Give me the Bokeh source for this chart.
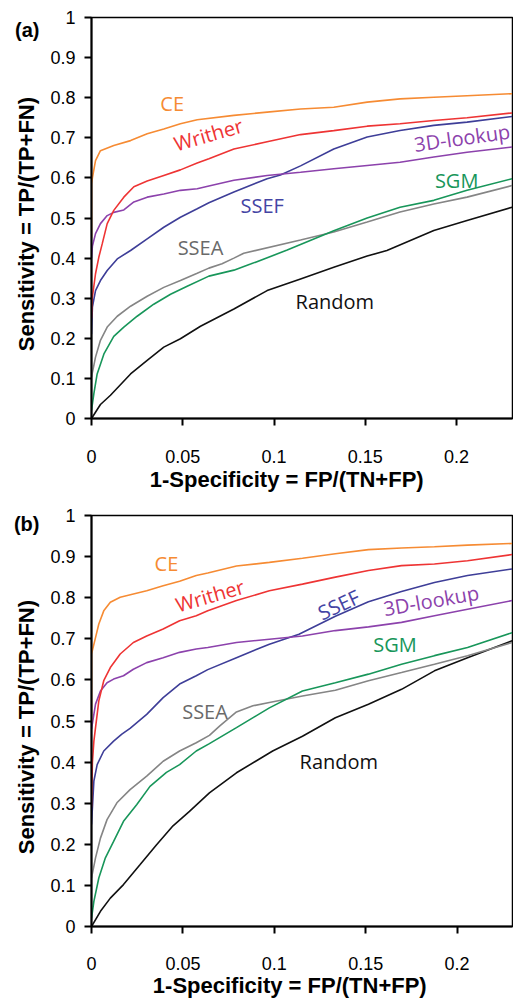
from bokeh.plotting import figure
from bokeh.layouts import column
from bokeh.models import FixedTicker, CustomJSTickFormatter, LinearAxis, Range1d
from bokeh.core.properties import value
from bokeh.embed import file_html
from bokeh.resources import INLINE
import math

# ---------------- data: panel (a) ----------------
a_ce_x = [0, 0, 0.0005, 0.0022, 0.0049, 0.0122, 0.0214, 0.0305, 0.0396, 0.0487, 0.0579, 0.078, 0.0962, 0.1145, 0.1327, 0.151, 0.169, 0.1875, 0.2057, 0.2304]
a_ce_y = [0.45, 0.585, 0.600, 0.643, 0.668, 0.681, 0.693, 0.710, 0.722, 0.735, 0.745, 0.756, 0.764, 0.772, 0.776, 0.789, 0.797, 0.801, 0.805, 0.810]

a_wr_x = [0, 0.0004, 0.0022, 0.0040, 0.0059, 0.0086, 0.0122, 0.0177, 0.0232, 0.0305, 0.0396, 0.0487, 0.0579, 0.0643, 0.078, 0.0962, 0.1145, 0.1327, 0.151, 0.169, 0.1875, 0.2057, 0.2304]
a_wr_y = [0.25, 0.30, 0.361, 0.402, 0.436, 0.486, 0.519, 0.552, 0.578, 0.592, 0.606, 0.620, 0.637, 0.648, 0.672, 0.690, 0.708, 0.718, 0.729, 0.735, 0.743, 0.750, 0.762]

a_3d_x = [0, 0.0005, 0.0022, 0.0049, 0.0086, 0.0122, 0.0177, 0.0232, 0.0305, 0.0396, 0.0487, 0.0579, 0.0643, 0.078, 0.0962, 0.1145, 0.1327, 0.151, 0.169, 0.1875, 0.2057, 0.2304]
a_3d_y = [0.40, 0.43, 0.461, 0.486, 0.506, 0.514, 0.520, 0.540, 0.552, 0.560, 0.569, 0.573, 0.580, 0.594, 0.606, 0.614, 0.623, 0.631, 0.639, 0.652, 0.664, 0.677]

a_ssef_x = [0, 0.0005, 0.0022, 0.0049, 0.0086, 0.0141, 0.0214, 0.0305, 0.0396, 0.0487, 0.0579, 0.0643, 0.078, 0.0962, 0.1035, 0.1145, 0.1327, 0.151, 0.169, 0.1875, 0.2057, 0.2304]
a_ssef_y = [0.21, 0.278, 0.319, 0.344, 0.369, 0.398, 0.419, 0.448, 0.477, 0.502, 0.523, 0.538, 0.565, 0.598, 0.607, 0.630, 0.672, 0.702, 0.718, 0.731, 0.739, 0.753]

a_ssea_x = [0, 0.0022, 0.0049, 0.0086, 0.0141, 0.0214, 0.0305, 0.0396, 0.0487, 0.0579, 0.0643, 0.0715, 0.078, 0.0834, 0.1145, 0.1327, 0.151, 0.169, 0.1875, 0.2057, 0.2304]
a_ssea_y = [0.103, 0.153, 0.195, 0.228, 0.255, 0.280, 0.305, 0.327, 0.344, 0.362, 0.375, 0.386, 0.400, 0.412, 0.445, 0.465, 0.490, 0.515, 0.535, 0.552, 0.581]

a_sgm_x = [0, 0.0013, 0.0031, 0.0068, 0.0122, 0.0177, 0.025, 0.0341, 0.0433, 0.0524, 0.0643, 0.078, 0.0871, 0.1072, 0.1327, 0.151, 0.169, 0.1875, 0.2057, 0.2304]
a_sgm_y = [0.02, 0.062, 0.111, 0.161, 0.205, 0.228, 0.255, 0.285, 0.310, 0.330, 0.355, 0.370, 0.385, 0.420, 0.468, 0.500, 0.527, 0.544, 0.569, 0.598]

a_rnd_x = [0, 0.0049, 0.0104, 0.0214, 0.0305, 0.0396, 0.0487, 0.0597, 0.078, 0.0962, 0.1145, 0.1327, 0.151, 0.1618, 0.1875, 0.2057, 0.2304]
a_rnd_y = [0.0, 0.035, 0.058, 0.111, 0.145, 0.178, 0.199, 0.230, 0.273, 0.319, 0.348, 0.377, 0.405, 0.419, 0.469, 0.494, 0.527]

# ---------------- data: panel (b) ----------------
b_ce_x = [0, 0, 0.0022, 0.004, 0.0067, 0.0103, 0.0157, 0.0229, 0.0302, 0.0392, 0.0482, 0.0573, 0.0636, 0.0793, 0.0973, 0.1154, 0.1334, 0.1515, 0.1696, 0.1876, 0.2057, 0.2301]
b_ce_y = [0.50, 0.663, 0.703, 0.736, 0.768, 0.789, 0.801, 0.809, 0.817, 0.829, 0.840, 0.854, 0.860, 0.877, 0.886, 0.896, 0.907, 0.917, 0.921, 0.924, 0.928, 0.932]

b_wr_x = [0, 0.0005, 0.0013, 0.004, 0.0067, 0.0103, 0.0157, 0.0229, 0.0302, 0.0392, 0.0482, 0.0573, 0.0636, 0.0793, 0.0973, 0.1154, 0.1334, 0.1515, 0.1696, 0.1876, 0.2057, 0.2301]
b_wr_y = [0.29, 0.40, 0.451, 0.549, 0.598, 0.630, 0.663, 0.691, 0.707, 0.724, 0.744, 0.756, 0.768, 0.793, 0.817, 0.833, 0.850, 0.866, 0.878, 0.882, 0.890, 0.905]

b_3d_x = [0, 0.0022, 0.0049, 0.0085, 0.0121, 0.0175, 0.0229, 0.0302, 0.0392, 0.0482, 0.0573, 0.0636, 0.0793, 0.0973, 0.1154, 0.1334, 0.1515, 0.1696, 0.1876, 0.2057, 0.2301]
b_3d_y = [0.48, 0.541, 0.573, 0.593, 0.602, 0.610, 0.626, 0.642, 0.654, 0.667, 0.675, 0.679, 0.691, 0.699, 0.707, 0.720, 0.729, 0.740, 0.756, 0.772, 0.793]

b_ssef_x = [0, 0.0013, 0.0031, 0.0067, 0.0121, 0.0166, 0.0211, 0.0302, 0.0392, 0.0482, 0.0573, 0.0636, 0.0793, 0.0973, 0.1135, 0.1334, 0.1515, 0.1696, 0.1876, 0.2057, 0.2301]
b_ssef_y = [0.248, 0.354, 0.394, 0.427, 0.451, 0.468, 0.482, 0.516, 0.557, 0.590, 0.610, 0.625, 0.654, 0.687, 0.711, 0.755, 0.790, 0.815, 0.837, 0.854, 0.870]

b_ssea_x = [0, 0.0022, 0.0049, 0.0085, 0.0139, 0.0211, 0.0302, 0.0392, 0.0482, 0.0573, 0.0645, 0.0702, 0.0793, 0.0883, 0.0973, 0.1154, 0.1334, 0.1515, 0.1696, 0.1876, 0.2057, 0.2301]
b_ssea_y = [0.118, 0.167, 0.215, 0.260, 0.301, 0.333, 0.366, 0.402, 0.427, 0.447, 0.465, 0.488, 0.522, 0.537, 0.545, 0.561, 0.575, 0.598, 0.618, 0.638, 0.659, 0.691]

b_sgm_x = [0, 0.0013, 0.004, 0.0076, 0.0121, 0.0175, 0.0248, 0.032, 0.041, 0.0482, 0.0573, 0.0645, 0.0793, 0.0973, 0.1154, 0.1334, 0.1515, 0.1696, 0.1876, 0.2057, 0.2301]
b_sgm_y = [0.02, 0.061, 0.118, 0.167, 0.207, 0.256, 0.297, 0.341, 0.375, 0.394, 0.427, 0.445, 0.484, 0.532, 0.573, 0.593, 0.614, 0.638, 0.659, 0.679, 0.715]

b_rnd_x = [0, 0.0049, 0.0103, 0.0175, 0.0265, 0.0356, 0.0446, 0.0536, 0.0645, 0.0793, 0.0991, 0.1154, 0.1334, 0.1515, 0.1696, 0.1876, 0.2057, 0.2301]
b_rnd_y = [0.0, 0.037, 0.069, 0.102, 0.150, 0.199, 0.245, 0.280, 0.325, 0.374, 0.427, 0.463, 0.508, 0.541, 0.577, 0.622, 0.654, 0.695]

series_names = ["CE", "Writher", "3D-lookup", "SSEF", "SGM", "SSEA", "Random"]
x_ticks = [0, 0.05, 0.1, 0.15, 0.2]
y_ticks = [0, 0.1, 0.2, 0.3, 0.4, 0.5, 0.6, 0.7, 0.8, 0.9, 1.0]
x_label = "1-Specificity = FP/(TN+FP)"
y_label = "Sensitivity = TP/(TP+FN)"

# ---------------- styling ----------------
NBSP = "\u00a0"
line_colors = {"CE": "#F68B33", "Writher": "#EE3434", "3D-lookup": "#8C42AC",
               "SSEF": "#3E3E98", "SGM": "#18965A", "SSEA": "#858585", "Random": "#111111"}
text_colors = {"CE": "#F68B33", "Writher": "#EE3434", "3D-lookup": "#8C42AC",
               "SSEF": "#4444A4", "SGM": "#18965A", "SSEA": "#6A6A6A", "Random": "#111111"}

# label placements (x, y, angle in degrees)
a_label_pos = {"CE": (0.0442, 0.785, 0), "Writher": (0.064, 0.708, 16), "3D-lookup": (0.203, 0.700, 8),
               "SSEF": (0.0935, 0.531, 0), "SGM": (0.200, 0.594, 0), "SSEA": (0.0597, 0.427, 0),
               "Random": (0.1333, 0.293, 0)}
b_label_pos = {"CE": (0.041, 0.882, 0), "Writher": (0.0648, 0.805, 16), "3D-lookup": (0.1858, 0.793, 10),
               "SSEF": (0.1353, 0.783, 25), "SGM": (0.166, 0.687, 0), "SSEA": (0.0621, 0.524, 0),
               "Random": (0.1353, 0.402, 0)}


def make_panel(series, label_pos, tag, tag_y, width, height, bl, bt, bb, xmax, tick_so, lab_so, xpad):
    p = figure(width=width, height=height, output_backend="svg", toolbar_location=None,
               x_range=Range1d(0, xmax), y_range=Range1d(0, 1),
               min_border_left=bl, min_border_right=1, min_border_top=bt, min_border_bottom=bb)
    p.background_fill_color = "white"
    p.border_fill_color = "white"
    p.outline_line_color = "black"
    p.outline_line_width = 1.5
    p.xgrid.visible = False
    p.ygrid.visible = False
    fmt = CustomJSTickFormatter(code="return String(Number(tick.toFixed(2)));")
    p.xaxis.ticker = FixedTicker(ticks=x_ticks)
    p.yaxis.ticker = FixedTicker(ticks=y_ticks)
    p.xaxis.formatter = fmt
    p.yaxis.formatter = fmt
    for ax in (p.xaxis[0], p.yaxis[0]):
        ax.axis_line_color = "black"
        ax.axis_line_width = 2
        ax.major_tick_line_color = "black"
        ax.major_tick_line_width = 2
        ax.major_tick_in = 0
        ax.major_tick_out = 7
        ax.minor_tick_line_color = None
        ax.major_label_text_font = "Liberation Sans"
        ax.major_label_text_font_size = "18px"
        ax.major_label_text_color = "black"
        ax.axis_label_text_font = "Liberation Sans"
        ax.axis_label_text_font_style = "bold"
        ax.axis_label_text_font_size = "22px"
        ax.axis_label_text_color = "black"
    # the source figure's axis titles sit slightly off the frame centre
    p.xaxis.axis_label = x_label + NBSP * xpad
    p.yaxis.axis_label = y_label + NBSP * 2
    p.xaxis.major_label_standoff = tick_so
    p.xaxis.axis_label_standoff = lab_so
    p.yaxis.major_label_standoff = 9
    p.yaxis.axis_label_standoff = 8

    # panel tag "(a)" / "(b)": an outer left axis that carries a single bold label
    tag_axis = LinearAxis(ticker=FixedTicker(ticks=[tag_y]),
                          major_label_overrides={tag_y: tag},
                          axis_line_color=None, major_tick_line_color=None,
                          minor_tick_line_color=None, major_tick_in=0, major_tick_out=0,
                          minor_tick_in=0, minor_tick_out=0,
                          major_label_standoff=-28,
                          major_label_text_font="Liberation Sans",
                          major_label_text_font_style="bold",
                          major_label_text_font_size="20px",
                          major_label_text_color="black")
    p.add_layout(tag_axis, "left")

    # draw in reverse so that upper curves sit over lower ones
    for name in reversed(series_names):
        xs, ys = series[name]
        p.line(xs, ys, line_color=line_colors[name], line_width=1.6)

    for name in series_names:
        lx, ly, ang = label_pos[name]
        p.text(x=[lx], y=[ly], text=[name], angle=math.radians(ang),
               text_font=value("Open Sans"), text_font_size="20px",
               text_color=text_colors[name], text_align="center", text_baseline="middle")
    return p


series_a = {"CE": (a_ce_x, a_ce_y), "Writher": (a_wr_x, a_wr_y), "3D-lookup": (a_3d_x, a_3d_y),
            "SSEF": (a_ssef_x, a_ssef_y), "SGM": (a_sgm_x, a_sgm_y), "SSEA": (a_ssea_x, a_ssea_y),
            "Random": (a_rnd_x, a_rnd_y)}
series_b = {"CE": (b_ce_x, b_ce_y), "Writher": (b_wr_x, b_wr_y), "3D-lookup": (b_3d_x, b_3d_y),
            "SSEF": (b_ssef_x, b_ssef_y), "SGM": (b_sgm_x, b_sgm_y), "SSEA": (b_ssea_x, b_ssea_y),
            "Random": (b_rnd_x, b_rnd_y)}

pa = make_panel(series_a, a_label_pos, "(a)", 0.97, 513, 505, 91, 17, 87, 0.2306, 24, 1, 5)
pb = make_panel(series_b, b_label_pos, "(b)", 0.98, 513, 495, 87, 10, 70, 0.2303, 23, 0, 4)

layout = column(pa, pb, spacing=0)
open("out.html", "w").write(file_html(layout, INLINE))
